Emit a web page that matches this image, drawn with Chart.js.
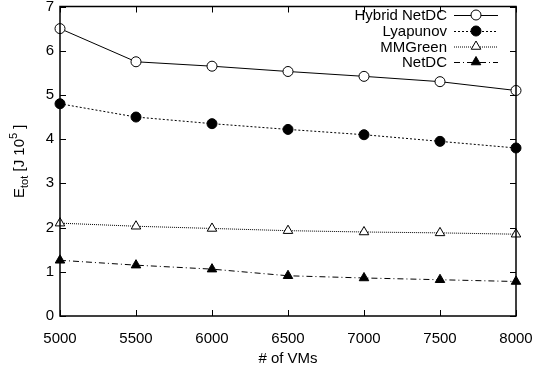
<!DOCTYPE html>
<html>
<head>
<meta charset="utf-8">
<script src="https://cdn.jsdelivr.net/npm/chart.js@4/dist/chart.umd.min.js"></script>
<style>
  html, body { margin: 0; padding: 0; background: #fff; }
  #wrap { width: 533px; height: 370px; }
</style>
</head>
<body>
<div id="wrap"><canvas id="energyChart" width="533" height="370"></canvas></div>
<script>
const vms = [5000, 5500, 6000, 6500, 7000, 7500, 8000];
const hybridNetDC = [6.5, 5.75, 5.65, 5.53, 5.42, 5.3, 5.1];
const lyapunov = [4.8, 4.5, 4.35, 4.22, 4.1, 3.95, 3.8];
const mmGreen = [2.1, 2.03, 1.98, 1.93, 1.9, 1.88, 1.85];
const netDC = [1.26, 1.15, 1.06, 0.91, 0.86, 0.82, 0.78];

const FONT = "'Liberation Sans', Arial, Helvetica, sans-serif";

function toPoints(values) {
    return values.map((v, i) => ({ x: vms[i], y: v }));
}

// gnuplot style frame: box + inward ticks on all four sides
const frame = {
    id: "frame",
    afterDatasetsDraw(chart) {
        const { ctx, chartArea, scales } = chart;
        const { left, right, top, bottom } = chartArea;
        ctx.save();
        ctx.strokeStyle = "#000";
        ctx.lineWidth = 1;
        ctx.beginPath();
        scales.x.ticks.forEach(t => {
            const x = Math.round(scales.x.getPixelForValue(t.value)) + 0.5;
            ctx.moveTo(x, bottom); ctx.lineTo(x, bottom - 6);
            ctx.moveTo(x, top); ctx.lineTo(x, top + 6);
        });
        scales.y.ticks.forEach(t => {
            const y = Math.round(scales.y.getPixelForValue(t.value)) + 0.5;
            ctx.moveTo(left, y); ctx.lineTo(left + 6, y);
            ctx.moveTo(right, y); ctx.lineTo(right - 6, y);
        });
        ctx.stroke();
        ctx.lineWidth = 1.5;
        ctx.strokeRect(left, top, right - left, bottom - top);
        ctx.restore();
    }
};

// y axis title with subscript and superscript
const yTitle = {
    id: "yTitle",
    afterDraw(chart) {
        const { ctx, chartArea } = chart;
        const cy = (chartArea.top + chartArea.bottom) / 2;
        ctx.save();
        ctx.translate(19, cy);
        ctx.rotate(-Math.PI / 2);
        ctx.fillStyle = "#000";
        ctx.textBaseline = "alphabetic";
        const parts = [
            { t: "E", size: 15, dy: 0 },
            { t: "tot", size: 11, dy: 4 },
            { t: " [J 10", size: 15, dy: 0 },
            { t: "5", size: 11, dy: -7 },
            { t: " ]", size: 15, dy: 0 }
        ];
        let total = 0;
        parts.forEach(p => {
            ctx.font = p.size + "px " + FONT;
            p.w = ctx.measureText(p.t).width;
            total += p.w;
        });
        let x = -total / 2;
        parts.forEach(p => {
            ctx.font = p.size + "px " + FONT;
            ctx.fillText(p.t, x, 5 + p.dy);
            x += p.w;
        });
        ctx.restore();
    }
};

// legend in the top right corner, text right aligned, sample to the right
const keyBox = {
    id: "keyBox",
    afterDraw(chart) {
        const { ctx } = chart;
        const textRight = 447;
        const lineStart = 454;
        const lineEnd = 498;
        const rowY = [15, 31, 46.5, 62];
        ctx.save();
        chart.data.datasets.forEach((ds, i) => {
            const y = rowY[i];
            ctx.font = "15px " + FONT;
            ctx.fillStyle = "#000";
            ctx.textAlign = "right";
            ctx.textBaseline = "middle";
            ctx.fillText(ds.label, textRight, y + 1);
            ctx.strokeStyle = ds.borderColor;
            ctx.lineWidth = ds.borderWidth;
            ctx.setLineDash(ds.borderDash || []);
            ctx.beginPath();
            ctx.moveTo(lineStart, y + 0.5);
            ctx.lineTo(lineEnd, y + 0.5);
            ctx.stroke();
            ctx.setLineDash([]);
            ctx.fillStyle = ds.pointBackgroundColor;
            ctx.strokeStyle = ds.pointBorderColor;
            ctx.lineWidth = 1;
            Chart.helpers.drawPoint(ctx, {
                pointStyle: ds.pointStyle,
                radius: ds.pointRadius,
                rotation: 0,
                borderWidth: 1
            }, (lineStart + lineEnd) / 2, y);
        });
        ctx.restore();
    }
};

const common = {
    borderColor: "#000",
    borderWidth: 1,
    pointBorderColor: "#000",
    pointBorderWidth: 1,
    tension: 0,
    fill: false,
    clip: false
};

new Chart(document.getElementById("energyChart"), {
    type: "line",
    data: {
        datasets: [
            Object.assign({}, common, {
                label: "Hybrid NetDC",
                data: toPoints(hybridNetDC),
                pointStyle: "circle",
                pointRadius: 5,
                pointBackgroundColor: "#fff"
            }),
            Object.assign({}, common, {
                label: "Lyapunov",
                data: toPoints(lyapunov),
                borderDash: [2, 2],
                pointStyle: "circle",
                pointRadius: 5,
                pointBackgroundColor: "#000"
            }),
            Object.assign({}, common, {
                label: "MMGreen",
                data: toPoints(mmGreen),
                borderDash: [1, 1],
                pointStyle: "triangle",
                pointRadius: 5.5,
                pointBackgroundColor: "#fff"
            }),
            Object.assign({}, common, {
                label: "NetDC",
                data: toPoints(netDC),
                borderDash: [6, 3, 1, 3],
                pointStyle: "triangle",
                pointRadius: 5.5,
                pointBackgroundColor: "#000"
            })
        ]
    },
    options: {
        responsive: false,
        animation: false,
        layout: { padding: { top: 6, right: 17, left: 0, bottom: 0 } },
        plugins: {
            legend: { display: false },
            tooltip: { enabled: false }
        },
        scales: {
            x: {
                type: "linear",
                min: 5000,
                max: 8000,
                grid: { display: false, drawTicks: false },
                border: { display: false },
                afterFit(scale) {
                    scale.height = 54;
                    scale.paddingLeft = 0;
                    scale.paddingRight = 0;
                },
                ticks: {
                    stepSize: 500,
                    color: "#000",
                    padding: 14,
                    maxRotation: 0,
                    font: { family: FONT, size: 15 },
                    callback: v => String(v)
                },
                title: {
                    display: true,
                    text: "# of VMs",
                    color: "#000",
                    padding: { top: 0, bottom: 2 },
                    font: { family: FONT, size: 15 }
                }
            },
            y: {
                type: "linear",
                min: 0,
                max: 7,
                grid: { display: false, drawTicks: false },
                border: { display: false },
                afterFit(scale) {
                    scale.width = 60;
                    scale.paddingTop = 0;
                    scale.paddingBottom = 0;
                },
                ticks: {
                    stepSize: 1,
                    color: "#000",
                    padding: 6,
                    font: { family: FONT, size: 15 }
                }
            }
        }
    },
    plugins: [frame, yTitle, keyBox]
});
</script>
</body>
</html>
